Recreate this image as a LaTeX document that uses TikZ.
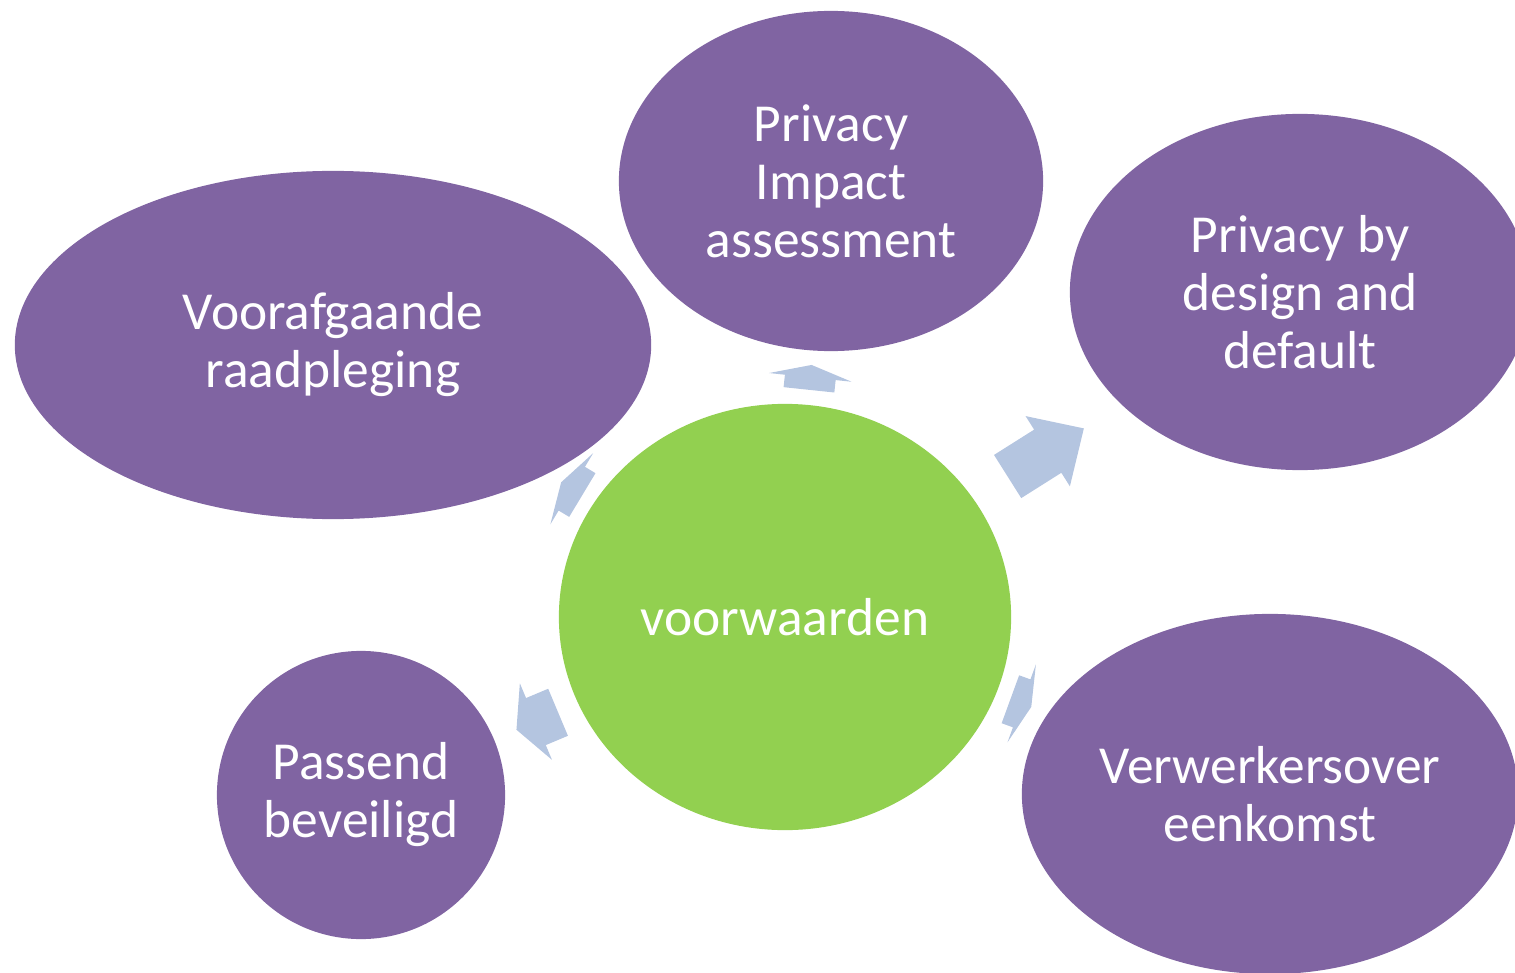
\documentclass[tikz,border=0pt]{standalone}
\usepackage{fontspec}
\setmainfont{Carlito}
\usepackage{tikz}
\usetikzlibrary{shapes.geometric, calc}

\definecolor{bubblepurple}{HTML}{8064A2}
\definecolor{hubgreen}{HTML}{92D050}
\definecolor{arrowblue}{HTML}{B4C5E0}

\newcommand{\labelfont}{\fontsize{15.2pt}{16.5pt}\selectfont}
\newcommand{\shafthalf}{0.255cm}
\newcommand{\headhalf}{0.415cm}
% tail, head base, tip
\newcommand{\blockarrow}[3]{%
  \fill[linkarrow] ($(#1)!\shafthalf!90:(#3)$) -- ($(#2)!\shafthalf!90:(#3)$) -- ($(#2)!\headhalf!90:(#3)$) -- (#3)
    -- ($(#2)!\headhalf!-90:(#3)$) -- ($(#2)!\shafthalf!-90:(#3)$) -- ($(#1)!\shafthalf!-90:(#3)$) -- cycle;}

\begin{document}
\begin{tikzpicture}[
x=0.01cm, y=-0.01cm,
bubble/.style={ellipse, fill=bubblepurple, text=white, inner sep=0pt, align=center, font=\labelfont},
hub/.style={bubble, fill=hubgreen},
linkarrow/.style={fill=arrowblue}
]
\useasboundingbox (0,0) rectangle (1515,973);
\clip (0,0) rectangle (1515,973);

\node [hub, minimum width=4.52cm, minimum height=4.26cm] (hub) at (785,617) {voorwaarden};

\node [bubble, minimum width=4.24cm, minimum height=3.40cm] (pia) at (831,181) {Privacy\\Impact\\assessment};
\node [bubble, minimum width=6.36cm, minimum height=3.48cm] (vr) at (333,345) {Voorafgaande\\raadpleging};
\node [bubble, minimum width=4.60cm, minimum height=3.56cm] (pbd) at (1300,292) {Privacy by\\design and\\default};
\node [bubble, minimum width=2.88cm, minimum height=2.88cm] (pb) at (361,795) {Passend\\beveiligd};
\node [bubble, minimum width=4.96cm, minimum height=3.60cm] (vo) at (1270,794) {Verwerkersover\\eenkomst};

% arrows from the hub
\coordinate (a1t) at ($(hub.center)!2.283cm!(pia.center)$);
\coordinate (a1b) at ($(hub.center)!2.408cm!(pia.center)$);
\coordinate (a1h) at ($(hub.center)!2.533cm!(pia.center)$);
\coordinate (a2t) at ($(hub.center)!2.631cm!(pbd.center)$);
\coordinate (a2b) at ($(hub.center)!3.105cm!(pbd.center)$);
\coordinate (a2h) at ($(hub.center)!3.532cm!(pbd.center)$);
\coordinate (a3t) at ($(hub.center)!2.364cm!(vr.center)$);
\coordinate (a3b) at ($(hub.center)!2.487cm!(vr.center)$);
\coordinate (a3h) at ($(hub.center)!2.611cm!(vr.center)$);
\coordinate (a4t) at ($(hub.center)!2.46cm!(pb.center)$);
\coordinate (a4b) at ($(hub.center)!2.70cm!(pb.center)$);
\coordinate (a4h) at ($(hub.center)!2.911cm!(pb.center)$);
\coordinate (a5t) at ($(hub.center)!2.398cm!(vo.center)$);
\coordinate (a5b) at ($(hub.center)!2.518cm!(vo.center)$);
\coordinate (a5h) at ($(hub.center)!2.62cm!(vo.center)$);

\blockarrow{a1t}{a1b}{a1h}
\blockarrow{a2t}{a2b}{a2h}
\blockarrow{a3t}{a3b}{a3h}
\blockarrow{a4t}{a4b}{a4h}
\blockarrow{a5t}{a5b}{a5h}
\end{tikzpicture}
\end{document}
